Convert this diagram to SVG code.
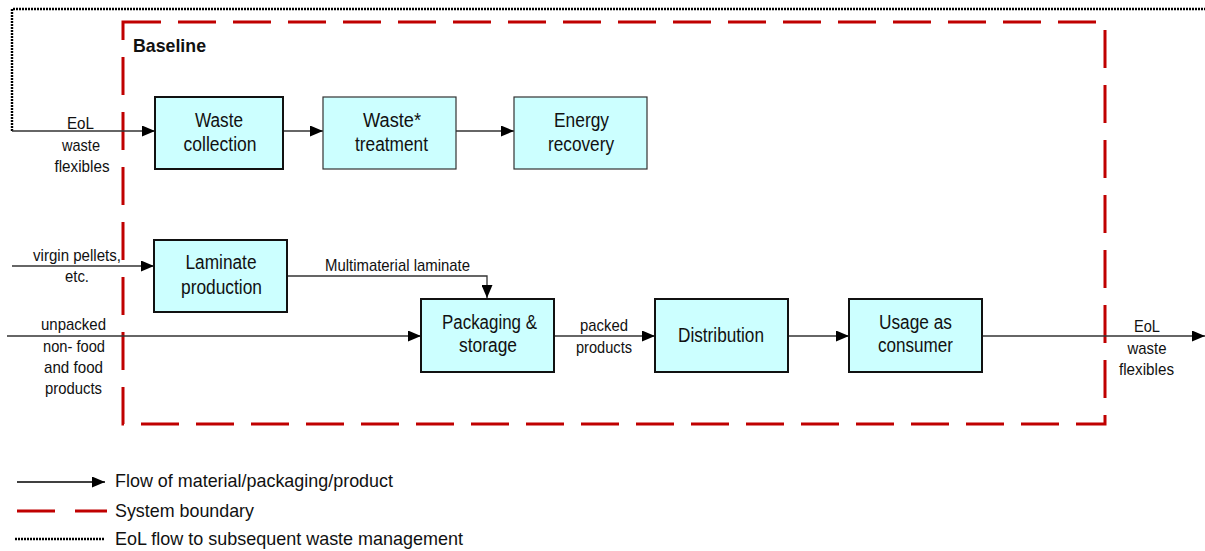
<svg xmlns="http://www.w3.org/2000/svg" width="1205" height="551" viewBox="0 0 1205 551">
<defs>
<marker id="arr" markerWidth="13" markerHeight="11" refX="13" refY="5.5" orient="auto" markerUnits="userSpaceOnUse">
<path d="M0,0 L13,5.5 L0,11 Z" fill="#000"/>
</marker>
<style>
.box{fill:#ccffff;stroke:#111;stroke-width:2}
.box2{fill:#ccffff;stroke:#333;stroke-width:1.2}
text{font-family:"Liberation Sans",Arial,sans-serif;fill:#111}
.nt{font-size:20px;text-anchor:middle}
.lb{font-size:17px;text-anchor:middle}
.lg{font-size:18.5px}
.flow{fill:none;stroke:#333;stroke-width:1.3}
.eol{fill:none;stroke:#000;stroke-width:2.4;stroke-dasharray:2 1}
.bnd{fill:none;stroke:#c00000;stroke-width:3;stroke-dasharray:38 17}
</style>
</defs>
<rect width="1205" height="551" fill="#fff"/>

<g id="boundary">
<rect class="bnd" x="123" y="22" width="982" height="402"/>
<text x="133" y="52" font-size="19px" font-weight="bold" textLength="73" lengthAdjust="spacingAndGlyphs">Baseline</text>
</g>

<g id="connectors">
<path class="eol" d="M12,131 L12,9 L1205,9"/>
<path class="flow" d="M12,131 L155,131" marker-end="url(#arr)"/>
<path class="flow" d="M283,131 L323,131" marker-end="url(#arr)"/>
<path class="flow" d="M456,131 L514,131" marker-end="url(#arr)"/>
<path class="flow" d="M12,266 L154,266" marker-end="url(#arr)"/>
<path class="flow" d="M287,276 L487,276 L487,298" marker-end="url(#arr)"/>
<path class="flow" d="M7,336 L421,336" marker-end="url(#arr)"/>
<path class="flow" d="M554,336 L655,336" marker-end="url(#arr)"/>
<path class="flow" d="M788,336 L849,336" marker-end="url(#arr)"/>
<path class="flow" d="M982,336 L1205,336" marker-end="url(#arr)"/>
</g>

<g id="labels">
<text class="lb" x="80.5" y="129" textLength="27" lengthAdjust="spacingAndGlyphs">EoL</text>
<text class="lb" x="81" y="151" textLength="38" lengthAdjust="spacingAndGlyphs">waste</text>
<text class="lb" x="82" y="172" textLength="55" lengthAdjust="spacingAndGlyphs">flexibles</text>
<text class="lb" x="77" y="261" textLength="88" lengthAdjust="spacingAndGlyphs">virgin pellets,</text>
<text class="lb" x="77" y="282" textLength="24" lengthAdjust="spacingAndGlyphs">etc.</text>
<text class="lb" x="73.5" y="330" textLength="65" lengthAdjust="spacingAndGlyphs">unpacked</text>
<text class="lb" x="74" y="352" textLength="62" lengthAdjust="spacingAndGlyphs">non- food</text>
<text class="lb" x="73.5" y="373" textLength="59" lengthAdjust="spacingAndGlyphs">and food</text>
<text class="lb" x="73.5" y="394" textLength="57" lengthAdjust="spacingAndGlyphs">products</text>
<text class="lb" x="397.5" y="271" textLength="145" lengthAdjust="spacingAndGlyphs">Multimaterial laminate</text>
<text class="lb" x="604" y="331" textLength="48" lengthAdjust="spacingAndGlyphs">packed</text>
<text class="lb" x="604" y="353" textLength="56" lengthAdjust="spacingAndGlyphs">products</text>
<text class="lb" x="1147" y="332" textLength="26" lengthAdjust="spacingAndGlyphs">EoL</text>
<text class="lb" x="1147" y="354" textLength="39" lengthAdjust="spacingAndGlyphs">waste</text>
<text class="lb" x="1146.5" y="375" textLength="55" lengthAdjust="spacingAndGlyphs">flexibles</text>
</g>

<g id="waste-collection">
<rect class="box" x="155" y="97" width="128" height="72"/>
<text class="nt" x="219" y="127" textLength="48" lengthAdjust="spacingAndGlyphs">Waste</text>
<text class="nt" x="220" y="151" textLength="73" lengthAdjust="spacingAndGlyphs">collection</text>
</g>
<g id="waste-treatment">
<rect class="box2" x="323" y="97" width="133" height="72"/>
<text class="nt" x="392" y="127" textLength="58" lengthAdjust="spacingAndGlyphs">Waste*</text>
<text class="nt" x="391.5" y="151" textLength="73" lengthAdjust="spacingAndGlyphs">treatment</text>
</g>
<g id="energy-recovery">
<rect class="box2" x="514" y="97" width="133" height="72"/>
<text class="nt" x="581.5" y="127" textLength="55" lengthAdjust="spacingAndGlyphs">Energy</text>
<text class="nt" x="581" y="151" textLength="66" lengthAdjust="spacingAndGlyphs">recovery</text>
</g>
<g id="laminate-production">
<rect class="box" x="154" y="240" width="133" height="72"/>
<text class="nt" x="221" y="269" textLength="71" lengthAdjust="spacingAndGlyphs">Laminate</text>
<text class="nt" x="221.5" y="294" textLength="81" lengthAdjust="spacingAndGlyphs">production</text>
</g>
<g id="packaging-storage">
<rect class="box" x="421" y="299" width="133" height="73"/>
<text class="nt" x="489.5" y="329" textLength="95" lengthAdjust="spacingAndGlyphs">Packaging &amp;</text>
<text class="nt" x="488" y="352" textLength="58" lengthAdjust="spacingAndGlyphs">storage</text>
</g>
<g id="distribution">
<rect class="box" x="655" y="299" width="133" height="73"/>
<text class="nt" x="721" y="342" textLength="86" lengthAdjust="spacingAndGlyphs">Distribution</text>
</g>
<g id="usage">
<rect class="box" x="849" y="299" width="133" height="73"/>
<text class="nt" x="915.5" y="329" textLength="73" lengthAdjust="spacingAndGlyphs">Usage as</text>
<text class="nt" x="915.5" y="352" textLength="75" lengthAdjust="spacingAndGlyphs">consumer</text>
</g>

<g id="legend">
<path d="M17,482 L105,482" stroke="#000" stroke-width="1.5" marker-end="url(#arr)"/>
<text class="lg" x="115" y="487" textLength="278" lengthAdjust="spacingAndGlyphs">Flow of material/packaging/product</text>
<path d="M17,511 L55,511 M75,511 L107,511" stroke="#c00000" stroke-width="3"/>
<text class="lg" x="115" y="517" textLength="139" lengthAdjust="spacingAndGlyphs">System boundary</text>
<path class="eol" d="M15,539 L105,539" stroke-width="1.6"/>
<text class="lg" x="115" y="545" textLength="348" lengthAdjust="spacingAndGlyphs">EoL flow to subsequent waste management</text>
</g>
</svg>
